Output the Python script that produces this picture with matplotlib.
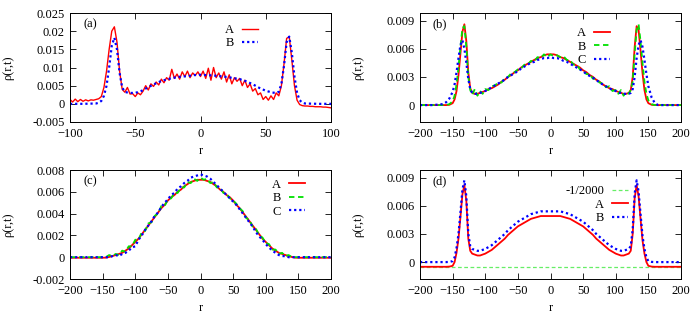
import numpy as np
import matplotlib
matplotlib.use("Agg")
import matplotlib.pyplot as plt

plt.rcParams['font.family'] = ['Liberation Serif', 'DejaVu Serif']
plt.rcParams['font.size'] = 9

RED = '#ff0000'
GREEN = '#00e000'
BLUE = '#0000ff'

# panel (a)
r_a = np.arange(-100, 101, 2)
a_A = [0.0012, 0.0005, 0.0013, 0.0006, 0.0012, 0.0007, 0.0011, 0.0008, 0.0011, 0.0010,
       0.0012, 0.0014, 0.0020, 0.0045, 0.0090, 0.0150, 0.0200, 0.0212, 0.0170, 0.0090,
       0.0040, 0.0032, 0.0045, 0.0027, 0.0028, 0.0020, 0.0030, 0.0025, 0.0035, 0.0050,
       0.0038, 0.0055, 0.0048, 0.0060, 0.0052, 0.0068, 0.0058, 0.0072, 0.0065, 0.0095,
       0.0070, 0.0082, 0.0068, 0.0088, 0.0075, 0.0090, 0.0072, 0.0085, 0.0078, 0.0088,
       0.0075, 0.0090, 0.0070, 0.0098, 0.0065, 0.0100, 0.0072, 0.0085, 0.0068, 0.0088,
       0.0060, 0.0080, 0.0055, 0.0072, 0.0062, 0.0070, 0.0050, 0.0065, 0.0045, 0.0055,
       0.0035, 0.0042, 0.0025, 0.0030, 0.0012, 0.0020, 0.0010, 0.0022, 0.0012, 0.0030,
       0.0022, 0.0050, 0.0110, 0.0180, 0.0185, 0.0120, 0.0050, 0.0010, -0.0002, -0.0005,
       -0.0006, -0.0006, -0.0007, -0.0007, -0.0008, -0.0008, -0.0008, -0.0009, -0.0009, -0.0010,
       -0.0011]
r_a2 = [-100, -90, -80, -78, -76, -74, -72, -70, -68, -66, -64, -62, -60, -58, -55, -50, -45,
        -40, -35, -30, -25, -20, -15, -10, -5, 0, 5, 10, 15, 20, 25, 30, 35, 40, 45, 50, 55,
        58, 60, 62, 64, 66, 68, 70, 72, 74, 76, 78, 80, 90, 100]
a_B = [0.0000, 0.0000, 0.0001, 0.0003, 0.0008, 0.0022, 0.0050, 0.0100, 0.0160, 0.0182,
       0.0150, 0.0085, 0.0045, 0.0033, 0.0030, 0.0030, 0.0036, 0.0046, 0.0055, 0.0063,
       0.0068, 0.0072, 0.0075, 0.0076, 0.0079, 0.0080, 0.0079, 0.0078, 0.0076, 0.0074,
       0.0071, 0.0068, 0.0062, 0.0054, 0.0044, 0.0036, 0.0031, 0.0030, 0.0033, 0.0055,
       0.0105, 0.0170, 0.0185, 0.0140, 0.0075, 0.0030, 0.0010, 0.0003, 0.0001, 0.0000,
       0.0000]

# panels (b) and (d) share this grid
r_bd = [-200, -180, -165, -160, -155, -150, -147, -144, -141, -138, -135, -132, -129, -126,
        -123, -120, -116, -112, -108, -104, -100, -95, -90, -85, -80, -75, -70, -65, -60,
        -55, -50, -45, -40, -35, -30, -25, -20, -15, -10, -5, 0,
        5, 10, 15, 20, 25, 30, 35, 40, 45, 50, 55, 60, 65, 70, 75, 80, 85, 90, 95, 100,
        104, 108, 112, 116, 120, 123, 126, 129, 132, 135, 138, 141, 144, 147, 150, 155,
        160, 165, 180, 200]
b_A = [0, 0, 0, 0, 0.00003, 0.0002, 0.0006, 0.0015, 0.0032, 0.0055, 0.0078, 0.0086, 0.0068,
       0.0035, 0.0018, 0.0013, 0.0012, 0.0012, 0.0013, 0.0014, 0.0015, 0.0017, 0.0018,
       0.0020, 0.0022, 0.0025, 0.0027, 0.0030, 0.0032, 0.0035, 0.0037, 0.0040, 0.0042,
       0.0044, 0.0046, 0.0048, 0.0050, 0.0051, 0.0053, 0.0054, 0.0054,
       0.0054, 0.0053, 0.0051, 0.0050, 0.0048, 0.0046, 0.0044, 0.0042, 0.0040, 0.0037,
       0.0035, 0.0032, 0.0030, 0.0027, 0.0025, 0.0022, 0.0020, 0.0018, 0.0017, 0.0015,
       0.0014, 0.0013, 0.0012, 0.0012, 0.0013, 0.0016, 0.0030, 0.0062, 0.0084, 0.0080,
       0.0058, 0.0034, 0.0016, 0.0006, 0.0002, 0.00003, 0, 0, 0, 0]
b_B = [0, 0, 0, 0, 0.0001, 0.0004, 0.0010, 0.0022, 0.0040, 0.0062, 0.0082, 0.0084, 0.0062,
       0.0030, 0.0016, 0.0011, 0.0017, 0.0010, 0.0015, 0.0012, 0.0017, 0.0016, 0.0020,
       0.0021, 0.0024, 0.0024, 0.0029, 0.0030, 0.0034, 0.0035, 0.0038, 0.0039, 0.0043,
       0.0043, 0.0047, 0.0046, 0.0051, 0.0050, 0.0054, 0.0051, 0.0054,
       0.0052, 0.0053, 0.0051, 0.0052, 0.0048, 0.0048, 0.0043, 0.0043, 0.0038, 0.0037,
       0.0033, 0.0033, 0.0028, 0.0028, 0.0024, 0.0023, 0.0019, 0.0020, 0.0015, 0.0016,
       0.0012, 0.0016, 0.0010, 0.0014, 0.0012, 0.0016, 0.0025, 0.0055, 0.0080, 0.0086,
       0.0068, 0.0045, 0.0025, 0.0012, 0.0005, 0.0001, 0, 0, 0, 0]
b_C = [0, 0, 0.0001, 0.0003, 0.0007, 0.0014, 0.0022, 0.0035, 0.0050, 0.0064, 0.0069, 0.0060,
       0.0045, 0.0028, 0.0017, 0.0013, 0.0012, 0.0012, 0.0013, 0.0014, 0.0015, 0.0017,
       0.0019, 0.0021, 0.0023, 0.0025, 0.0027, 0.0030, 0.0032, 0.0034, 0.0036, 0.0039,
       0.0041, 0.0043, 0.0045, 0.0046, 0.0048, 0.0049, 0.0050, 0.0050, 0.0051,
       0.0050, 0.0050, 0.0049, 0.0047, 0.0046, 0.0044, 0.0042, 0.0040, 0.0038, 0.0036,
       0.0033, 0.0031, 0.0029, 0.0027, 0.0024, 0.0022, 0.0020, 0.0018, 0.0016, 0.0015,
       0.0013, 0.0013, 0.0012, 0.0012, 0.0012, 0.0013, 0.0017, 0.0030, 0.0050, 0.0064,
       0.0069, 0.0062, 0.0048, 0.0033, 0.0020, 0.0008, 0.0002, 0, 0, 0]

# panel (c)
r_c = np.arange(-200, 201, 5)
c_A = [-0.00005, -0.00005, -0.00005, -0.00005, -0.00005, -0.00005, -0.00005, -0.00005,
       -0.00005, -0.00005, -0.00005, -0.00004, 0.00002, 0.0001, 0.0002, 0.0003, 0.0004,
       0.0006, 0.0008, 0.0011, 0.0014, 0.0017, 0.0021, 0.0025, 0.0029, 0.0033, 0.0037,
       0.0041, 0.0045, 0.0048, 0.0052, 0.0055, 0.0057, 0.0060, 0.0062, 0.0065, 0.0067,
       0.0069, 0.0070, 0.0071, 0.0071,
       0.0071, 0.0070, 0.0069, 0.0067, 0.0065, 0.0062, 0.0060, 0.0057, 0.0055, 0.0052,
       0.0048, 0.0045, 0.0041, 0.0037, 0.0033, 0.0029, 0.0025, 0.0021, 0.0017, 0.0014,
       0.0011, 0.0008, 0.0006, 0.0004, 0.0003, 0.0002, 0.0001, 0.00002, -0.00004, -0.00005,
       -0.00005, -0.00005, -0.00005, -0.00005, -0.00005, -0.00005, -0.00005, -0.00005,
       -0.00005, -0.00005]
c_B = [0, 0, 0, 0, 0, 0, 0, 0, 0, 0, 0, 0.00001, 0.0002, 0.0001, 0.0003, 0.0002, 0.0006,
       0.0005, 0.0010, 0.0010, 0.0016, 0.0016, 0.0023, 0.0024, 0.0031, 0.0032, 0.0038,
       0.0040, 0.0047, 0.0047, 0.0053, 0.0054, 0.0059, 0.0059, 0.0064, 0.0064, 0.0069,
       0.0068, 0.0072, 0.0070, 0.0073,
       0.0071, 0.0072, 0.0068, 0.0069, 0.0064, 0.0064, 0.0059, 0.0058, 0.0054, 0.0052,
       0.0049, 0.0045, 0.0042, 0.0036, 0.0034, 0.0028, 0.0026, 0.0020, 0.0018, 0.0013,
       0.0012, 0.0007, 0.0007, 0.0003, 0.0004, 0.0001, 0.0002, 0.00001, 0, 0,
       0, 0, 0, 0, 0, 0, 0, 0, 0, 0]
c_C = [0, 0, 0, 0, 0, 0, 0, 0, 0, 0, 0, 0, 0, 0.0001, 0.0002, 0.0001, 0.0003, 0.0004,
       0.0006, 0.0009, 0.0010, 0.0016, 0.0020, 0.0025, 0.0029, 0.0033, 0.0038, 0.0041,
       0.0046, 0.0050, 0.0053, 0.0057, 0.0059, 0.0063, 0.0065, 0.0068, 0.0070, 0.0073,
       0.0074, 0.0075, 0.0076,
       0.0075, 0.0074, 0.0072, 0.0069, 0.0066, 0.0063, 0.0060, 0.0057, 0.0054, 0.0051,
       0.0048, 0.0044, 0.0040, 0.0036, 0.0032, 0.0028, 0.0023, 0.0019, 0.0016, 0.0012,
       0.0009, 0.0006, 0.0004, 0.0002, 0.0001, 0.0001, 0, 0, 0, 0,
       0, 0, 0, 0, 0, 0, 0, 0, 0, 0]

# panel (d)
d_A = [-0.0005, -0.0005, -0.0005, -0.0005, -0.00048, -0.0004, 0.0000, 0.0010, 0.0025,
       0.0048, 0.0072, 0.0082, 0.0065, 0.0025, 0.0012, 0.0009, 0.0008, 0.0007, 0.0007,
       0.0008, 0.0009, 0.0011, 0.0013, 0.0016, 0.0019, 0.0022, 0.0025, 0.0029, 0.0032,
       0.0035, 0.0038, 0.0040, 0.0042, 0.0044, 0.0046, 0.0047, 0.0048, 0.0049, 0.0049,
       0.0049, 0.0049,
       0.0049, 0.0049, 0.0049, 0.0048, 0.0047, 0.0046, 0.0044, 0.0042, 0.0040, 0.0038,
       0.0035, 0.0032, 0.0029, 0.0025, 0.0022, 0.0019, 0.0016, 0.0013, 0.0011, 0.0009,
       0.0008, 0.0007, 0.0007, 0.0008, 0.0009, 0.0012, 0.0030, 0.0068, 0.0082, 0.0070,
       0.0046, 0.0023, 0.0009, 0.0000, -0.0004, -0.00048, -0.0005, -0.0005, -0.0005,
       -0.0005]
d_B = [0, 0, 0, 0, 0.00002, 0.0001, 0.0005, 0.0015, 0.0030, 0.0053, 0.0077, 0.0087, 0.0070,
       0.0030, 0.0017, 0.0014, 0.0013, 0.0012, 0.0012, 0.0013, 0.0014, 0.0016, 0.0018,
       0.0021, 0.0024, 0.0027, 0.0030, 0.0034, 0.0037, 0.0040, 0.0043, 0.0045, 0.0047,
       0.0049, 0.0051, 0.0052, 0.0053, 0.0054, 0.0054, 0.0054, 0.0054,
       0.0054, 0.0054, 0.0054, 0.0053, 0.0052, 0.0051, 0.0049, 0.0047, 0.0045, 0.0043,
       0.0040, 0.0037, 0.0034, 0.0030, 0.0027, 0.0024, 0.0021, 0.0018, 0.0016, 0.0014,
       0.0013, 0.0012, 0.0012, 0.0013, 0.0014, 0.0017, 0.0035, 0.0073, 0.0087, 0.0075,
       0.0051, 0.0028, 0.0014, 0.0005, 0.0001, 0.00002, 0, 0, 0, 0]
d_line = [-1 / 2000, -1 / 2000]
r_line = [-200, 200]

DASH = (0, (3, 2))
DOT = (0, (1, 1.3))

fig = plt.figure(figsize=(7, 3.14), dpi=100)
W, H = 700.0, 314.0


def make_ax(left, top, right, bottom):
    return fig.add_axes([left / W, 1 - bottom / H, (right - left) / W, (bottom - top) / H])


def style(ax, xlim, ylim, yticks, label, yfmt):
    ax.set_xlim(*xlim)
    ax.set_ylim(*ylim)
    ax.set_yticks(yticks)
    ax.set_yticklabels([yfmt(v) for v in yticks])
    ax.tick_params(direction='in', top=True, right=True, length=4, width=0.6, pad=4)
    for s in ax.spines.values():
        s.set_linewidth(0.7)
    ax.set_xlabel('r')
    ax.set_ylabel('ρ(r,t)')
    ax.xaxis.set_label_coords(0.5, -0.215)
    ax.yaxis.set_label_coords(-0.215, 0.5)
    ax.text(0.077, 0.9, label, transform=ax.transAxes, ha='center', va='center')


def fmt(v):
    s = ('%.3f' % v).rstrip('0').rstrip('.')
    return '0' if s in ('0', '-0') else s


ax_a = make_ax(70, 13, 331, 122)
ax_b = make_ax(420, 13, 681, 122)
ax_c = make_ax(70, 170, 331, 279)
ax_d = make_ax(420, 170, 681, 279)

# (a)
ax_a.plot(r_a, a_A, color=RED, lw=1.0, label='A')
ax_a.plot(r_a2, a_B, color=BLUE, lw=1.6, ls=DOT, label='B')
style(ax_a, (-100, 100), (-0.005, 0.025), [-0.005, 0, 0.005, 0.01, 0.015, 0.02, 0.025], '(a)', fmt)
ax_a.set_xticks([-100, -50, 0, 50, 100])

# (b)
ax_b.plot(r_bd, b_A, color=RED, lw=1.3, label='A')
ax_b.plot(r_bd, b_B, color=GREEN, lw=1.3, ls=DASH, label='B')
ax_b.plot(r_bd, b_C, color=BLUE, lw=1.6, ls=DOT, label='C')
style(ax_b, (-200, 200), (-0.0018, 0.0098), [0, 0.003, 0.006, 0.009], '(b)', fmt)
ax_b.set_xticks(range(-200, 201, 50))

# (c)
ax_c.plot(r_c, c_A, color=RED, lw=1.3, label='A')
ax_c.plot(r_c, c_B, color=GREEN, lw=1.3, ls=DASH, label='B')
ax_c.plot(r_c, c_C, color=BLUE, lw=1.6, ls=DOT, label='C')
style(ax_c, (-200, 200), (-0.002, 0.008), [-0.002, 0, 0.002, 0.004, 0.006, 0.008], '(c)', fmt)
ax_c.set_xticks(range(-200, 201, 50))

# (d)
ax_d.plot(r_line, d_line, color='#66ee66', lw=0.9, ls=DASH, label='-1/2000')
ax_d.plot(r_bd, d_A, color=RED, lw=1.3, label='A')
ax_d.plot(r_bd, d_B, color=BLUE, lw=1.6, ls=DOT, label='B')
style(ax_d, (-200, 200), (-0.0018, 0.0098), [0, 0.003, 0.006, 0.009], '(d)', fmt)
ax_d.set_xticks(range(-200, 201, 50))

leg_kw = dict(loc='upper right', frameon=False, markerfirst=False, handlelength=1.3,
              handletextpad=0.6, labelspacing=0.12, borderaxespad=0, borderpad=0,
              fontsize=9)
ax_a.legend(bbox_to_anchor=(0.72, 0.9), **leg_kw)
ax_b.legend(bbox_to_anchor=(0.728, 0.87), **leg_kw)
ax_c.legend(bbox_to_anchor=(0.90, 0.92), **leg_kw)
ax_d.legend(bbox_to_anchor=(0.797, 0.86), **leg_kw)

fig.savefig('out.png', dpi=100)
